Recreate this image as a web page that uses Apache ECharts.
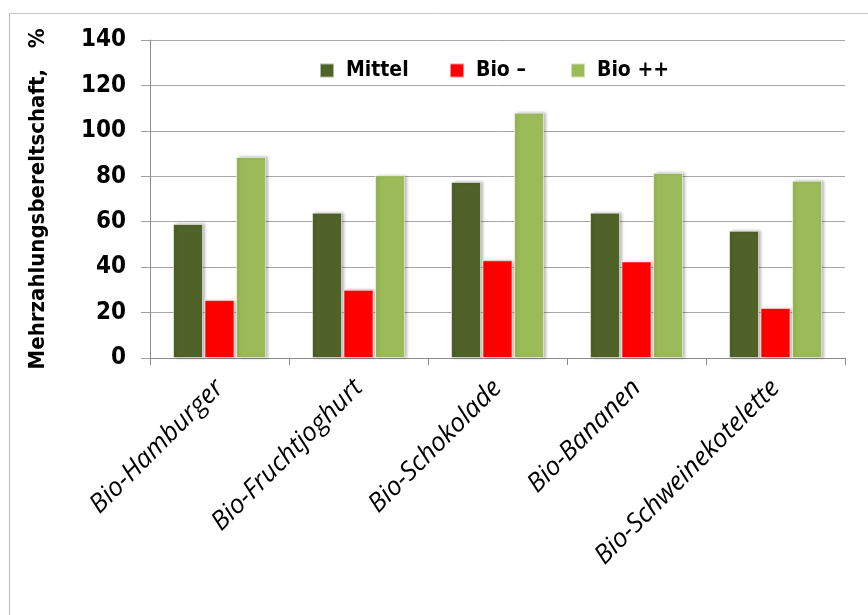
<!DOCTYPE html>
<html>
<head>
<meta charset="utf-8">
<script src="https://cdn.jsdelivr.net/npm/echarts@6/dist/echarts.min.js"></script>
<style>
  html, body { margin: 0; padding: 0; background: #fff; }
  #chart { width: 868px; height: 615px; }
</style>
</head>
<body>
<div id="chart"></div>
<script>
// Products on the category axis
const categories = ['Bio-Hamburger', 'Bio-Fruchtjoghurt', 'Bio-Schokolade', 'Bio-Bananen', 'Bio-Schweinekotelette'];
// Willingness to pay extra, in percent
const mittel = [59, 64, 77.5, 64, 56];
const bioMinus = [25.5, 30, 43, 42.5, 22];
const bioPlus = [88.5, 80.5, 108, 81.5, 78];
const seriesNames = ['Mittel', 'Bio –', 'Bio ++'];
const seriesColors = ['#4F6228', '#FF0000', '#9BBB59'];
const yTicks = [0, 20, 40, 60, 80, 100, 120, 140];

const boldFont = '"DejaVu Sans Condensed", "Liberation Sans", sans-serif';

const chart = echarts.init(document.getElementById('chart'), null, { renderer: 'canvas' });

const barStyle = (color) => ({
  color: color,
  borderColor: 'rgba(255,255,255,0.55)',
  borderWidth: 1,
  shadowColor: 'rgba(0,0,0,0.28)',
  shadowBlur: 3,
  shadowOffsetX: 2,
  shadowOffsetY: 0
});

const legendText = { fontFamily: boldFont, fontWeight: 'bold', fontSize: 21, color: '#000' };
const legendAt = (name, left) => ({
  data: [name], left: left, top: 55, itemWidth: 14, itemHeight: 14, itemGap: 0,
  textStyle: Object.assign({ padding: [0, 0, 0, 7] }, legendText), icon: 'rect'
});

chart.setOption({
  animation: false,
  backgroundColor: '#fff',
  graphic: [
    { type: 'line', shape: { x1: 9, y1: 13.5, x2: 868, y2: 13.5 }, style: { stroke: '#c8c8c8', lineWidth: 1 } },
    { type: 'line', shape: { x1: 9.5, y1: 13, x2: 9.5, y2: 615 }, style: { stroke: '#b8b8b8', lineWidth: 1 } }
  ],
  legend: [
    legendAt(seriesNames[0], 314),
    legendAt(seriesNames[1], 444),
    legendAt(seriesNames[2], 565)
  ],
  grid: { left: 150, right: 23, top: 40, bottom: 257 },
  xAxis: {
    type: 'category',
    data: categories,
    axisLine: { lineStyle: { color: '#8c8c8c', width: 1 } },
    axisTick: { show: true, length: 7, alignWithLabel: false, lineStyle: { color: '#8c8c8c' } },
    axisLabel: {
      interval: 0, rotate: 45, margin: 26,
      fontFamily: '"Open Sans", "Liberation Sans", sans-serif',
      fontStyle: 'italic', fontSize: 26, color: '#000'
    }
  },
  yAxis: {
    type: 'value',
    min: yTicks[0], max: yTicks[yTicks.length - 1], interval: 20,
    name: 'Mehrzahlungsbereltschaft,   %',
    nameLocation: 'middle', nameRotate: 90, nameGap: 101,
    nameTextStyle: { fontFamily: boldFont, fontWeight: 'bold', fontSize: 22, color: '#000' },
    axisLine: { show: true, lineStyle: { color: '#8c8c8c', width: 1 } },
    axisTick: { show: true, inside: false, length: 9, lineStyle: { color: '#a0a0a0' } },
    splitLine: { show: true, lineStyle: { color: '#a6a6a6', width: 1 } },
    axisLabel: {
      margin: 24, fontFamily: boldFont, fontWeight: 'bold', fontSize: 24, color: '#000'
    }
  },
  series: [
    { name: seriesNames[0], type: 'bar', data: mittel, barWidth: 30, barGap: '5%', itemStyle: barStyle(seriesColors[0]) },
    { name: seriesNames[1], type: 'bar', data: bioMinus, barWidth: 30, barGap: '5%', itemStyle: barStyle(seriesColors[1]) },
    { name: seriesNames[2], type: 'bar', data: bioPlus, barWidth: 30, barGap: '5%', itemStyle: barStyle(seriesColors[2]) }
  ]
});
</script>
</body>
</html>
